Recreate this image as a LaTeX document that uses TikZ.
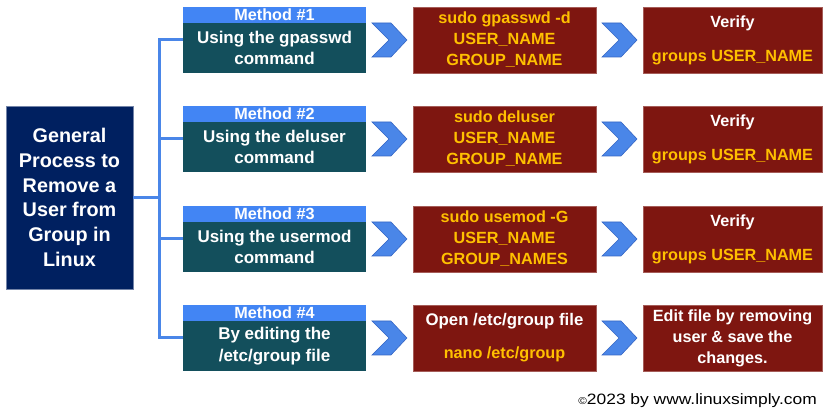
\documentclass[tikz,border=0pt]{standalone}
\usepackage{fontspec}
\setmainfont{Liberation Sans}
\usepackage{graphicx}
\usepackage{xcolor}
\usepackage{tikz}
\usetikzlibrary{positioning,calc}
\definecolor{Navy}{HTML}{002060}
\definecolor{Teal}{HTML}{134F5C}
\definecolor{HeadBlue}{HTML}{4285F4}
\definecolor{Brick}{HTML}{7E1610}
\definecolor{Gold}{HTML}{FFC000}
\definecolor{LinkBlue}{HTML}{4A86E8}
\definecolor{ChevEdge}{HTML}{3566C4}

\begin{document}
\begin{tikzpicture}[x=1pt,y=1pt,
  every node/.style={inner sep=0pt,align=center,text=white},
  mainbox/.style={fill=Navy,draw=Navy!55!white,line width=0.8pt,minimum width=127pt,minimum height=183pt,font=\fontsize{19.8}{24.8}\selectfont\bfseries},
  head/.style={fill=HeadBlue,minimum width=183pt,minimum height=16pt,font=\fontsize{16.2}{18}\selectfont\bfseries},
  meth/.style={fill=Teal,minimum width=183pt,minimum height=50pt,font=\fontsize{17}{21.5}\selectfont\bfseries},
  cmd/.style={fill=Brick,draw=Brick!70!white,line width=0.6pt,minimum width=183pt,minimum height=66pt,text=Gold,font=\fontsize{16.2}{21}\selectfont\bfseries},
  check/.style={fill=Brick,draw=Brick!70!white,line width=0.6pt,minimum width=179pt,minimum height=66pt,font=\fontsize{16.2}{21}\selectfont\bfseries},
  link/.style={draw=LinkBlue,line width=3pt},
  chev/.pic={\draw[fill=LinkBlue,draw=ChevEdge,line width=0.6pt,line join=miter]
    (-17.5,17) -- (1.5,17) -- (17.5,0) -- (1.5,-17) -- (-17.5,-17) -- (-0.5,0) -- cycle;}]
\useasboundingbox (0,0) rectangle (825,412);

\node[mainbox] (gp) at (69.5,214.5) {General\\Process to\\Remove a\\User from\\Group in\\Linux};

\node[meth] (b1) at (274.5,364) {Using the gpasswd\\command};
\node[meth] (b2) at (274.5,265) {Using the deluser\\command};
\node[meth] (b3) at (274.5,165) {Using the usermod\\command};
\node[meth] (b4) at (274.5,66) {By editing the\\/etc/group file};
\node[head,above=0pt of b1] (h1) {Method \#1};
\node[head,above=0pt of b2] (h2) {Method \#2};
\node[head,above=0pt of b3] (h3) {Method \#3};
\node[head,above=0pt of b4] (h4) {Method \#4};

\node[cmd] (r1) at (504.5,372) {sudo gpasswd -d\\USER\_NAME\\GROUP\_NAME};
\node[cmd] (r2) at (504.5,273) {sudo deluser\\USER\_NAME\\GROUP\_NAME};
\node[cmd] (r3) at (504.5,173) {sudo usemod -G\\USER\_NAME\\GROUP\_NAMES};
\node[cmd] (r4) at (504.5,74) {\textcolor{white}{\fontsize{16.8}{21}\selectfont Open /etc/group file}\\[12pt]nano /etc/group};

\node[check] (v1) at (732.5,372) {Verify\\[13pt]\textcolor{Gold}{groups USER\_NAME}};
\node[check] (v2) at (732.5,273) {Verify\\[13pt]\textcolor{Gold}{groups USER\_NAME}};
\node[check] (v3) at (732.5,173) {Verify\\[13pt]\textcolor{Gold}{groups USER\_NAME}};
\node[check] (v4) at (732.5,74) {Edit file by removing\\user \& save the\\changes.};

% tree from the main box to each method, then chevrons along each row
\coordinate (trunk) at ($(gp.east)+(26,0)$);
\draw[link] (gp.east) -- (trunk);
\foreach \i in {1,...,4} \draw[link] (trunk) |- ($(h\i.north west)!.5!(b\i.south west)$);
\foreach \i in {1,...,4} {
  \pic at ($(b\i.east |- r\i.center)!.5!(r\i.west)$) {chev};
  \pic at ($(r\i.east)!.5!(v\i.west)$) {chev};
}

\node[anchor=base east,text=black,font=\fontsize{15}{18}\selectfont] (copy) at (817,7)
  {\scalebox{1.16}[1]{{\fontsize{10}{10}\selectfont ©}2023 by www.linuxsimply.com}};
\end{tikzpicture}
\end{document}
